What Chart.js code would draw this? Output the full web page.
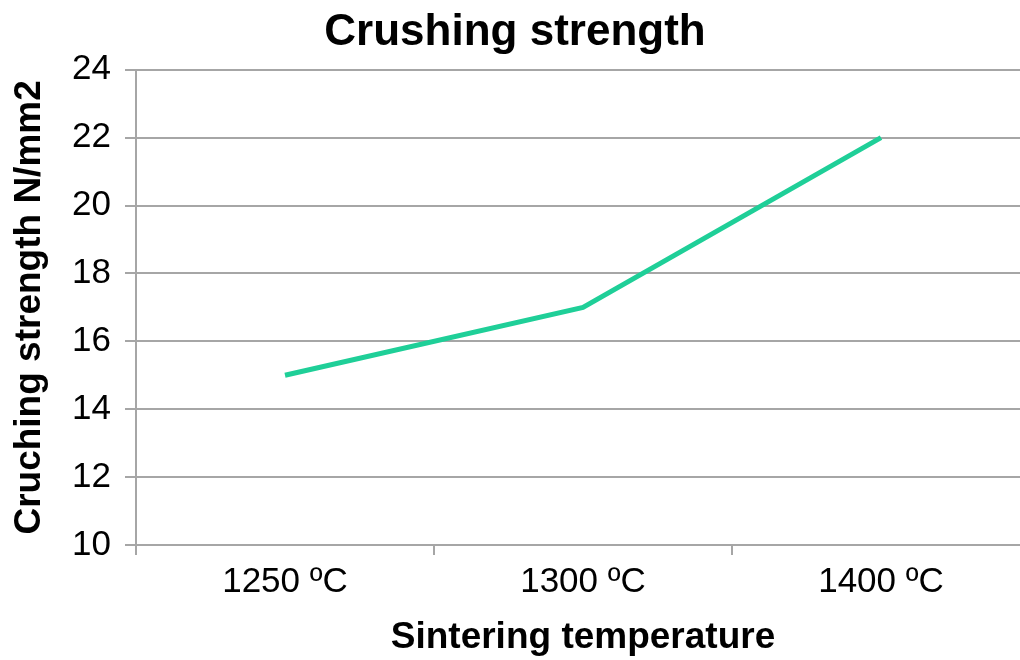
<!DOCTYPE html>
<html>
<head>
<meta charset="utf-8">
<script src="https://cdn.jsdelivr.net/npm/chart.js@4/dist/chart.umd.min.js"></script>
<style>
  html, body { margin: 0; padding: 0; background: #fff; overflow: hidden; }
  /* plot area runs a little past the right edge, as in the original */
  #wrap { width: 1030px; height: 660px; position: relative; }
</style>
</head>
<body>
<div id="wrap"><canvas id="chart"></canvas></div>
<script>
const temperatures = ["1250 ºC", "1300 ºC", "1400 ºC"];
const strengthValues = [15, 17, 22];
const yTicks = { min: 10, max: 24, step: 2 };

const gridColor = "#a6a6a6";
const fontFamily = "'Liberation Sans', Arial, sans-serif";

Chart.defaults.color = "#000";
Chart.defaults.font.family = fontFamily;

new Chart(document.getElementById("chart"), {
    type: "line",
    data: {
        labels: temperatures,
        datasets: [{
            label: "Crushing strength",
            data: strengthValues,
            borderColor: "#1fcf98",
            backgroundColor: "#1fcf98",
            borderWidth: 5,
            pointRadius: 0,
            tension: 0
        }]
    },
    options: {
        responsive: true,
        maintainAspectRatio: false,
        animation: false,
        plugins: {
            legend: { display: false },
            tooltip: { enabled: false },
            title: {
                display: true,
                text: "Crushing strength",
                color: "#000",
                font: { size: 44, weight: "bold" },
                padding: { top: 6, bottom: 11 }
            }
        },
        scales: {
            x: {
                type: "category",
                offset: true,
                grid: {
                    offset: true,
                    drawOnChartArea: false,
                    color: gridColor,
                    lineWidth: 2,
                    tickLength: 10
                },
                border: { color: gridColor, width: 2 },
                ticks: {
                    color: "#000",
                    font: { size: 35 },
                    padding: 6,
                    maxRotation: 0
                },
                title: {
                    display: true,
                    text: "Sintering temperature",
                    color: "#000",
                    font: { size: 37, weight: "bold" },
                    padding: { top: 4, bottom: 0 }
                },
                afterFit: (scale) => { scale.height = 115; }
            },
            y: {
                min: yTicks.min,
                max: yTicks.max,
                grid: {
                    color: gridColor,
                    lineWidth: 2,
                    tickLength: 11
                },
                border: { color: gridColor, width: 2 },
                ticks: {
                    stepSize: yTicks.step,
                    color: "#000",
                    font: { size: 35 },
                    padding: 14
                },
                title: {
                    display: true,
                    text: "Cruching strength N/mm2",
                    color: "#000",
                    font: { size: 37, weight: "bold" },
                    padding: { top: 8, bottom: 4 }
                },
                afterFit: (scale) => { scale.width = 136; }
            }
        }
    }
});
</script>
</body>
</html>
